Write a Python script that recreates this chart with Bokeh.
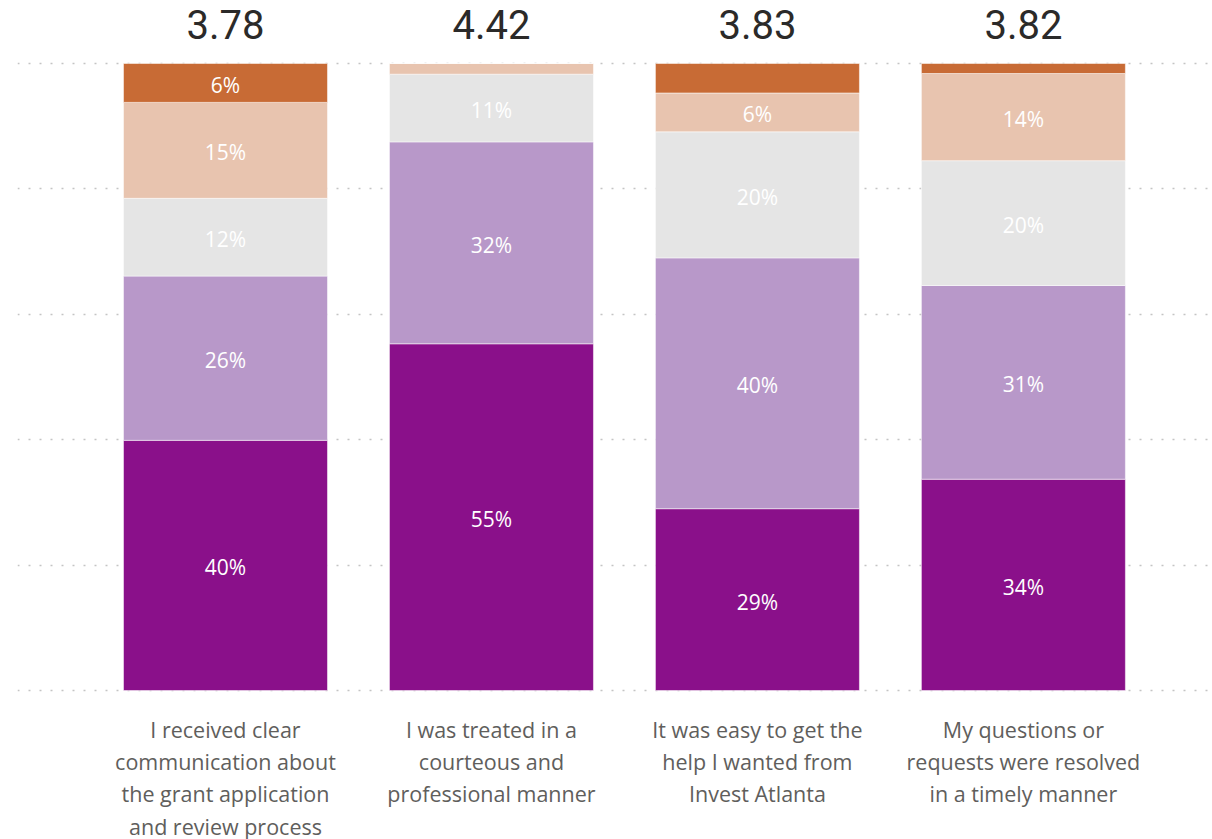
import numpy as np
from bokeh.plotting import figure
from bokeh.models import ColumnDataSource, Range1d, Grid, FixedTicker
from bokeh.core.properties import value
from bokeh.embed import file_html
from bokeh.resources import INLINE

# ---- data ----
questions = [
    "I received clear\ncommunication about\nthe grant application\nand review process",
    "I was treated in a\ncourteous and\nprofessional manner",
    "It was easy to get the\nhelp I wanted from\nInvest Atlanta",
    "My questions or\nrequests were resolved\nin a timely manner",
]
mean_scores = ["3.78", "4.42", "3.83", "3.82"]
strongly_agree = [39.9, 55.3, 29.0, 33.7]
agree = [26.2, 32.2, 40.0, 30.9]
neutral = [12.4, 10.8, 20.1, 19.9]
disagree = [15.3, 1.7, 6.2, 13.9]
strongly_disagree = [6.2, 0.0, 4.7, 1.6]
grid_ticks = [0, 20, 40, 60, 80, 100]

series_names = ["strongly_agree", "agree", "neutral", "disagree", "strongly_disagree"]
series_vals = [strongly_agree, agree, neutral, disagree, strongly_disagree]
colors = ["#8A108A", "#B898C9", "#E5E5E5", "#E8C4AF", "#C86B35"]

x = np.arange(len(questions)) + 0.5
data = {"x": x}
for n, v in zip(series_names, series_vals):
    data[n] = v
src = ColumnDataSource(data)

p = figure(width=1212, height=839, output_backend="svg", toolbar_location=None,
           x_range=Range1d(-0.282, 4.211), y_range=Range1d(-23.76, 110.05),
           x_axis_location=None, y_axis_location=None,
           min_border_left=17, min_border_right=0, min_border_top=0, min_border_bottom=0)
p.outline_line_color = None
p.background_fill_color = "white"
p.border_fill_color = "white"
for g in p.grid:
    g.visible = False

grid = Grid(dimension=1, ticker=FixedTicker(ticks=grid_ticks),
            grid_line_color="#C4C4C4", grid_line_dash="2 9", grid_line_width=1.5)
p.add_layout(grid)

p.vbar_stack(series_names, x="x", width=0.767, source=src, color=colors,
             line_color="white", line_width=1, line_alpha=0.5)

# segment labels
lx, ly, lt = [], [], []
for i in range(len(questions)):
    base = 0.0
    for v in series_vals:
        if v[i] >= 5:
            lx.append(x[i]); ly.append(base + v[i] / 2); lt.append(f"{round(v[i])}%")
        base += v[i]
p.text(x=lx, y=ly, text=lt, text_color="white", text_font=value("Open Sans"),
       text_font_size="21px", text_align="center", text_baseline="middle", y_offset=2)

# mean scores on top
p.text(x=list(x), y=[100] * len(x), text=mean_scores, y_offset=-39,
       text_color="#2B2A29", text_font=value("Roboto"), text_font_size="40px",
       text_align="center", text_baseline="middle")

# category labels
p.text(x=list(x), y=[0] * len(x), text=questions, y_offset=24,
       text_color="#605E5C", text_font=value("Open Sans"), text_font_size="21.5px",
       text_align="center", text_baseline="top", text_line_height=1.12)

open("out.html", "w").write(file_html(p, INLINE))
